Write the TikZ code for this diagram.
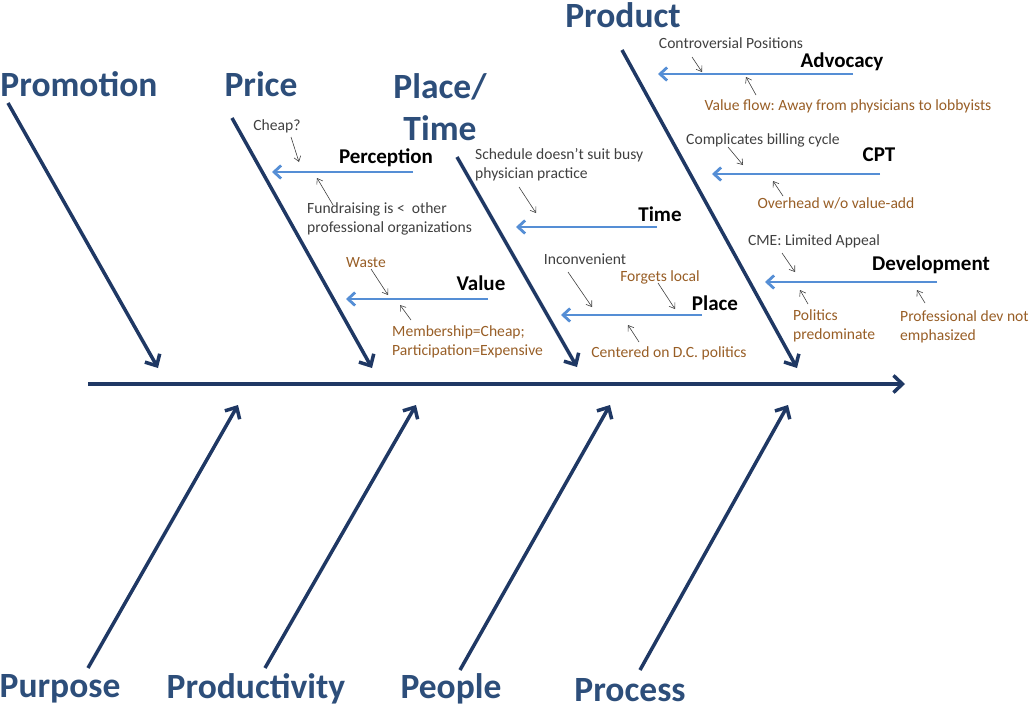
\documentclass[tikz,border=0pt]{standalone}
\usepackage{fontspec}
\setmainfont{Carlito}
\usetikzlibrary{arrows.meta}
\definecolor{bonenavy}{RGB}{31,56,100}
\definecolor{headblue}{RGB}{45,78,122}
\definecolor{subblue}{RGB}{85,142,213}
\definecolor{notegray}{RGB}{64,64,64}
\definecolor{notebrown}{RGB}{152,94,38}
\frenchspacing

\begin{document}
\begin{tikzpicture}[x=1pt, y=-1pt,
	bone/.style={bonenavy, line width=3.5pt, -{Straight Barb[length=9pt,width=17pt]}},
	subbone/.style={subblue, line width=2.8pt, -{Straight Barb[length=7pt,width=13pt]}},
	pointer/.style={notegray, line width=0.6pt, -{Straight Barb[length=5pt,width=7pt]}},
	heading/.style={headblue, font=\fontsize{35.5}{42}\selectfont\bfseries, align=center, inner sep=0pt},
	cause/.style={black, font=\fontsize{21}{24}\selectfont\bfseries, inner sep=0pt},
	greynote/.style={notegray, font=\fontsize{15.6}{18.5}\selectfont, align=left, inner sep=0pt},
	brownnote/.style={notebrown, font=\fontsize{15.6}{18.5}\selectfont, align=left, inner sep=0pt}]
	\useasboundingbox (0,0) rectangle (1030,710);

	% spine
	\coordinate (tail) at (88,384);
	\coordinate (effect) at (905,384);
	\draw[bone] (tail) -- (effect);

	% headings
	\node[heading] (promotion) at (79,84) {Promotion};
	\node[heading] (price) at (261,84) {Price};
	\node[heading] (placetime) at (440,107) {Place/\\Time};
	\node[heading] (product) at (623,15) {Product};
	\node[heading] (purpose) at (60,689) {Purpose};
	\node[heading] (productivity) at (256,689) {Productivity};
	\node[heading] (people) at (451,689) {People};
	\node[heading] (process) at (630,690) {Process};

	% main bones, upper side
	\coordinate (promA) at (8,103);    \coordinate (promB) at (158,368);
	\coordinate (priceA) at (232,118); \coordinate (priceB) at (372,368);
	\coordinate (placeA) at (457,157); \coordinate (placeB) at (577,367);
	\coordinate (prodA) at (622,50);   \coordinate (prodB) at (797,368);
	\draw[bone] (promA) -- (promB);
	\draw[bone] (priceA) -- (priceB);
	\draw[bone] (placeA) -- (placeB);
	\draw[bone] (prodA) -- (prodB);

	% main bones, lower side
	\coordinate (purpA) at (88,668);   \coordinate (purpB) at (238,405);
	\coordinate (prdvA) at (265,668);  \coordinate (prdvB) at (416,405);
	\coordinate (peopA) at (460,670);  \coordinate (peopB) at (610,405);
	\coordinate (procA) at (640,670);  \coordinate (procB) at (788,405);
	\draw[bone] (purpA) -- (purpB);
	\draw[bone] (prdvA) -- (prdvB);
	\draw[bone] (peopA) -- (peopB);
	\draw[bone] (procA) -- (procB);

	% sub-causes
	\node[cause] (advocacy) at (842,62) {Advocacy};
	\node[cause] (cpt) at (879,155) {CPT};
	\node[cause] (perception) at (386,158) {Perception};
	\node[cause] (time) at (660,214) {Time};
	\node[cause] (value) at (481,283) {Value};
	\node[cause] (place) at (715,303) {Place};
	\node[cause] (development) at (931,265) {Development};

	\coordinate (advA) at (853,74);  \coordinate (advB) at (658,74);
	\coordinate (cptA) at (880,174); \coordinate (cptB) at (712,174);
	\coordinate (perA) at (413,172); \coordinate (perB) at (272,172);
	\coordinate (timA) at (657,227); \coordinate (timB) at (516,227);
	\coordinate (valA) at (488,299); \coordinate (valB) at (346,299);
	\coordinate (plcA) at (702,315); \coordinate (plcB) at (561,315);
	\coordinate (devA) at (937,282); \coordinate (devB) at (765,282);
	\draw[subbone] (advA) -- (advB);
	\draw[subbone] (cptA) -- (cptB);
	\draw[subbone] (perA) -- (perB);
	\draw[subbone] (timA) -- (timB);
	\draw[subbone] (valA) -- (valB);
	\draw[subbone] (plcA) -- (plcB);
	\draw[subbone] (devA) -- (devB);

	% notes on Product
	\node[greynote] (controversial) at (731,43) {Controversial Positions};
	\node[brownnote] (valueflow) at (848,106) {Value flow: Away from physicians to lobbyists};
	\node[greynote] (billing) at (763,140) {Complicates billing cycle};
	\node[brownnote] (overhead) at (836,203) {Overhead w/o value-add};
	\coordinate (n1a) at (692,57);  \coordinate (n1b) at (702,72);
	\coordinate (n2a) at (756,95);  \coordinate (n2b) at (746,77);
	\coordinate (n3a) at (728,147); \coordinate (n3b) at (743,165);
	\coordinate (n4a) at (783,196); \coordinate (n4b) at (773,181);
	\draw[pointer] (n1a) -- (n1b);
	\draw[pointer] (n2a) -- (n2b);
	\draw[pointer] (n3a) -- (n3b);
	\draw[pointer] (n4a) -- (n4b);

	% notes on Price
	\node[greynote] (cheap) at (277,126) {Cheap?};
	\node[greynote, anchor=west] (fundraising) at (307,219) {Fundraising is < \ other\\professional organizations};
	\node[brownnote] (waste) at (366,263) {Waste};
	\node[brownnote, anchor=west] (membership) at (392,342) {Membership=Cheap;\\Participation=Expensive};
	\coordinate (n5a) at (291,137); \coordinate (n5b) at (299,162);
	\coordinate (n6a) at (333,205); \coordinate (n6b) at (317,178);
	\coordinate (n7a) at (371,269); \coordinate (n7b) at (388,295);
	\coordinate (n8a) at (411,320); \coordinate (n8b) at (400,305);
	\draw[pointer] (n5a) -- (n5b);
	\draw[pointer] (n6a) -- (n6b);
	\draw[pointer] (n7a) -- (n7b);
	\draw[pointer] (n8a) -- (n8b);

	% notes on Place/Time
	\node[greynote, anchor=west] (schedule) at (475,165) {Schedule doesn’t suit busy\\physician practice};
	\node[greynote] (inconvenient) at (585,259) {Inconvenient};
	\node[brownnote] (forgets) at (660,277) {Forgets local};
	\node[brownnote] (centered) at (669,353) {Centered on D.C. politics};
	\coordinate (n9a) at (519,187);  \coordinate (n9b) at (536,213);
	\coordinate (n10a) at (568,272); \coordinate (n10b) at (592,307);
	\coordinate (n11a) at (658,283); \coordinate (n11b) at (675,309);
	\coordinate (n12a) at (639,342); \coordinate (n12b) at (628,325);
	\draw[pointer] (n9a) -- (n9b);
	\draw[pointer] (n10a) -- (n10b);
	\draw[pointer] (n11a) -- (n11b);
	\draw[pointer] (n12a) -- (n12b);

	% notes on Development
	\node[greynote] (cme) at (814,241) {CME: Limited Appeal};
	\node[brownnote, anchor=west] (politics) at (793,326) {Politics\\predominate};
	\node[brownnote, anchor=west] (profdev) at (900,327) {Professional dev not\\emphasized};
	\coordinate (n13a) at (782,253); \coordinate (n13b) at (795,272);
	\coordinate (n14a) at (808,304); \coordinate (n14b) at (800,290);
	\coordinate (n15a) at (925,303); \coordinate (n15b) at (917,290);
	\draw[pointer] (n13a) -- (n13b);
	\draw[pointer] (n14a) -- (n14b);
	\draw[pointer] (n15a) -- (n15b);
\end{tikzpicture}
\end{document}
